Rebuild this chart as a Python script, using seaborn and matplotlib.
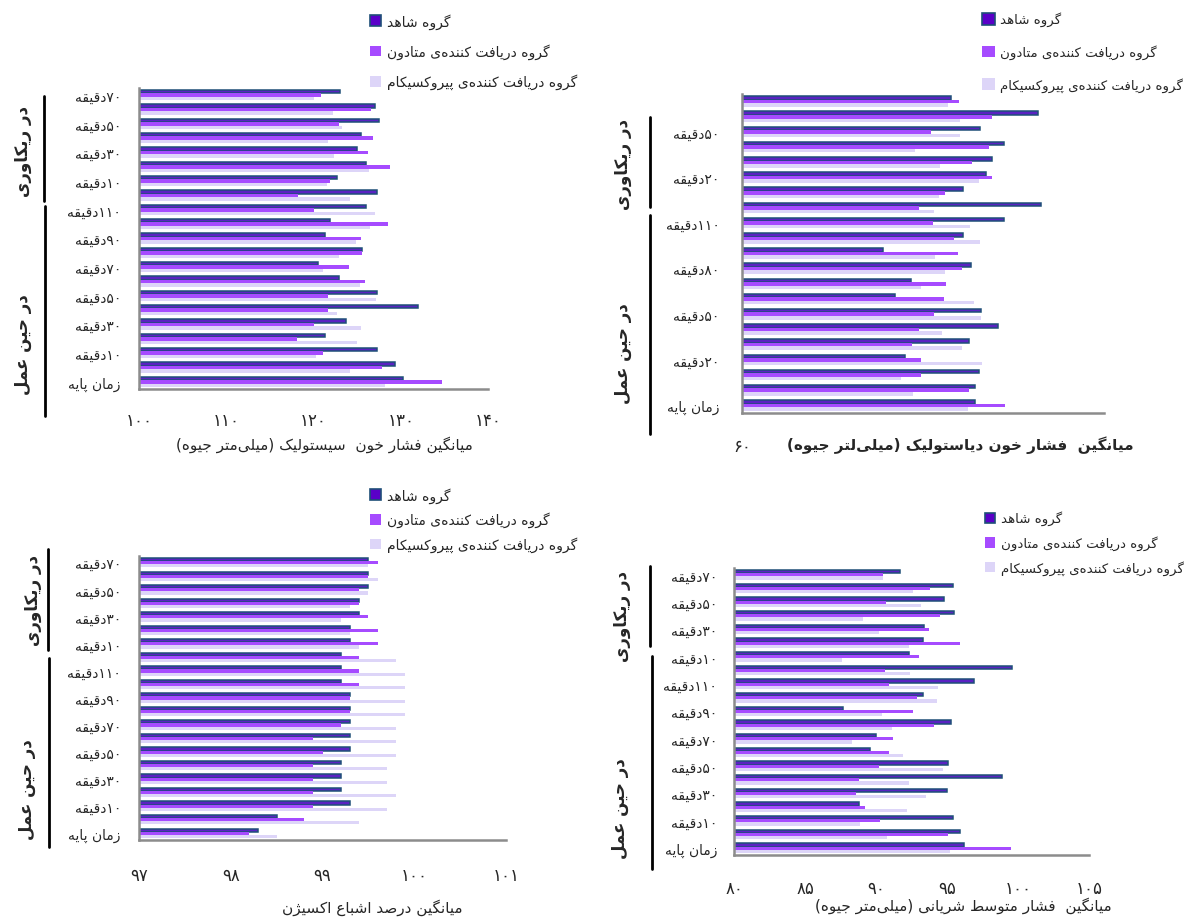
import re
import numpy as np
import pandas as pd
import matplotlib
matplotlib.use("Agg")
import matplotlib.pyplot as plt
import seaborn as sns
from matplotlib.lines import Line2D
from matplotlib.patches import Patch

W, H = 1190, 920

# arabic presentation forms: isolated, final, initial, medial
FORMS = {
    "ا": ("\uFE8D", "\uFE8E", None, None),
    "آ": ("\uFE81", "\uFE82", None, None),
    "ب": ("\uFE8F", "\uFE90", "\uFE91", "\uFE92"),
    "پ": ("\uFB56", "\uFB57", "\uFB58", "\uFB59"),
    "ت": ("\uFE95", "\uFE96", "\uFE97", "\uFE98"),
    "ج": ("\uFE9D", "\uFE9E", "\uFE9F", "\uFEA0"),
    "ح": ("\uFEA1", "\uFEA2", "\uFEA3", "\uFEA4"),
    "خ": ("\uFEA5", "\uFEA6", "\uFEA7", "\uFEA8"),
    "د": ("\uFEA9", "\uFEAA", None, None),
    "ر": ("\uFEAD", "\uFEAE", None, None),
    "ز": ("\uFEAF", "\uFEB0", None, None),
    "ژ": ("\uFB8A", "\uFB8B", None, None),
    "س": ("\uFEB1", "\uFEB2", "\uFEB3", "\uFEB4"),
    "ش": ("\uFEB5", "\uFEB6", "\uFEB7", "\uFEB8"),
    "ص": ("\uFEB9", "\uFEBA", "\uFEBB", "\uFEBC"),
    "ط": ("\uFEC1", "\uFEC2", "\uFEC3", "\uFEC4"),
    "ع": ("\uFEC9", "\uFECA", "\uFECB", "\uFECC"),
    "ف": ("\uFED1", "\uFED2", "\uFED3", "\uFED4"),
    "ق": ("\uFED5", "\uFED6", "\uFED7", "\uFED8"),
    "ک": ("\uFB8E", "\uFB8F", "\uFB90", "\uFB91"),
    "ك": ("\uFB8E", "\uFB8F", "\uFB90", "\uFB91"),
    "گ": ("\uFB92", "\uFB93", "\uFB94", "\uFB95"),
    "ل": ("\uFEDD", "\uFEDE", "\uFEDF", "\uFEE0"),
    "م": ("\uFEE1", "\uFEE2", "\uFEE3", "\uFEE4"),
    "ن": ("\uFEE5", "\uFEE6", "\uFEE7", "\uFEE8"),
    "و": ("\uFEED", "\uFEEE", None, None),
    "ه": ("\uFEE9", "\uFEEA", "\uFEEB", "\uFEEC"),
    "ی": ("\uFBFC", "\uFBFD", "\uFBFE", "\uFBFF"),
    "ي": ("\uFBFC", "\uFBFD", "\uFBFE", "\uFBFF"),
}
DIGITS = "0-9\u06F0-\u06F9"


def fa(text):
    # shape persian letters and put them in visual (left to right) order
    out = []
    for i, c in enumerate(text):
        if c not in FORMS:
            out.append("" if c == "\u200c" else c)
            continue
        prev = text[i - 1] if i > 0 else ""
        nxt = text[i + 1] if i + 1 < len(text) else ""
        join_prev = prev in FORMS and FORMS[prev][2] is not None
        join_next = FORMS[c][2] is not None and nxt in FORMS
        iso, fin, ini, med = FORMS[c]
        if join_prev and join_next:
            out.append(med)
        elif join_prev:
            out.append(fin)
        elif join_next:
            out.append(ini)
        else:
            out.append(iso)
    runs = re.findall(f"[{DIGITS}]+|[^{DIGITS}]+", "".join(out))
    mirror = str.maketrans("()", ")(")
    vis = []
    for r in runs[::-1]:
        if re.fullmatch(f"[{DIGITS}]+", r):
            vis.append(r)
        else:
            vis.append(r[::-1].translate(mirror))
    return "".join(vis)


def fa_num(n):
    return str(n).translate(str.maketrans("0123456789", "۰۱۲۳۴۵۶۷۸۹"))


# categories, bottom (baseline) to top (recovery 70 min)
intraop_times = ["زمان پایه"] + [fa_num(m) + "دقیقه" for m in [5, 10, 20, 30, 40, 50, 60, 70, 80, 90, 100, 110]]
recovery_times = [fa_num(m) + "دقیقه" for m in [0, 10, 20, 30, 40, 50, 60, 70]]
time_labels = intraop_times + recovery_times
time_keys = ["op " + t for t in intraop_times] + ["rec " + t for t in recovery_times]

groups = ["گروه شاهد", "گروه دریافت کننده\u200cی متادون", "گروه دریافت کننده\u200cی پیروکسیکام"]

# systolic blood pressure
sbp_control = [130.3, 129.3, 127.3, 121.3, 123.7, 132.0, 127.3, 122.9, 120.5, 125.6, 121.3,
               121.9, 126.0, 127.3, 122.7, 126.0, 125.0, 125.5, 127.5, 127.0, 123.0]
sbp_methadone = [134.7, 127.9, 121.1, 118.1, 120.1, 121.7, 121.7, 125.9, 124.1, 125.6, 125.4,
                 128.5, 120.1, 118.2, 121.9, 128.8, 126.3, 126.8, 122.9, 126.6, 120.9]
sbp_piroxicam = [128.2, 124.2, 120.3, 125.0, 125.4, 122.7, 127.2, 125.3, 121.1, 122.9, 124.9,
                 126.5, 127.1, 124.2, 121.6, 126.4, 122.3, 121.7, 123.3, 122.2, 120.1]

# diastolic blood pressure
dbp_control = [79.3, 79.3, 79.6, 73.5, 78.8, 81.2, 79.8, 72.7, 74.0, 79.0, 71.7,
               78.3, 81.7, 84.8, 78.3, 80.2, 80.7, 81.7, 79.7, 84.5, 77.3]
dbp_methadone = [81.8, 78.8, 74.8, 74.8, 74.1, 74.7, 75.9, 76.7, 76.9, 78.2, 77.9,
                 77.6, 75.8, 74.7, 76.8, 80.7, 79.1, 80.5, 75.7, 80.7, 78.0]
dbp_piroxicam = [78.7, 74.2, 73.2, 79.9, 78.2, 76.6, 79.8, 79.2, 74.8, 76.8, 76.0,
                 79.7, 78.9, 75.9, 76.3, 79.6, 76.4, 74.3, 78.1, 78.1, 77.1]

# oxygen saturation
spo2_control = [98.3, 98.5, 99.3, 99.2, 99.2, 99.2, 99.3, 99.3, 99.3, 99.3, 99.3,
                99.2, 99.2, 99.2, 99.3, 99.3, 99.4, 99.4, 99.5, 99.5, 99.5]
spo2_methadone = [98.2, 98.8, 98.9, 98.9, 98.9, 98.9, 99.0, 98.9, 99.2, 99.3, 99.3,
                  99.4, 99.4, 99.4, 99.6, 99.6, 99.5, 99.4, 99.4, 99.5, 99.6]
spo2_piroxicam = [98.5, 99.4, 99.7, 99.8, 99.7, 99.7, 99.8, 99.8, 99.8, 99.9, 99.9,
                  99.9, 99.9, 99.8, 99.4, 99.3, 99.2, 99.3, 99.5, 99.6, 99.5]

# mean arterial pressure
map_control = [96.2, 95.9, 95.4, 88.8, 95.0, 98.9, 95.1, 89.6, 90.0, 95.3, 87.7,
               93.3, 96.9, 99.6, 92.3, 93.3, 93.4, 95.5, 94.8, 95.4, 91.7]
map_methadone = [99.5, 95.1, 90.3, 89.2, 88.6, 88.8, 90.2, 90.9, 91.2, 94.1, 92.6,
                 92.9, 90.9, 90.6, 93.0, 95.9, 93.7, 94.5, 90.7, 93.8, 90.5]
map_piroxicam = [95.2, 90.8, 88.9, 92.2, 93.5, 92.3, 94.7, 91.9, 88.3, 91.1, 90.4,
                 94.3, 94.4, 92.4, 87.6, 92.3, 90.2, 89.1, 93.2, 92.6, 90.5]

colors = ["#5a22c2", "#a64bff", "#ddd5f8"]
dark_edge = "#1f4f78"
axis_gray = "#8c8c8c"

sns.set_style("white")
plt.rcParams["font.family"] = ["DejaVu Sans"]

fig = plt.figure(figsize=(W / 100, H / 100), dpi=100)


def px_axes(left, top, right, bottom):
    return fig.add_axes([left / W, 1 - bottom / H, (right - left) / W, (bottom - top) / H])


def draw_panel(ax, series, xlim, xticks, label_step, xpad, ypad, xlabels=None):
    df = pd.DataFrame({"time": time_keys})
    for g, vals in zip(groups, series):
        df[g] = vals
    long = df.melt(id_vars="time", var_name="group", value_name="value")
    sns.barplot(data=long, x="value", y="time", hue="group", order=time_keys[::-1],
                hue_order=groups, palette=colors, orient="h", width=0.7, saturation=1,
                errorbar=None, legend=False, ax=ax)
    for i, cont in enumerate(ax.containers):
        for bar in cont:
            if i == 0:
                bar.set_edgecolor(dark_edge)
                bar.set_linewidth(1.1)
            else:
                bar.set_linewidth(0)
    ax.set_xlim(*xlim)
    ax.set_ylim(len(time_keys) - 0.5, -0.5)
    n = len(time_keys)
    shown = list(range(0, n, label_step))
    ax.set_yticks([n - 1 - i for i in shown], labels=[fa(time_labels[i]) for i in shown])
    ax.set_yticks(np.arange(-0.5, n, 1), minor=True)
    if xlabels is None:
        xlabels = [fa_num(t) for t in xticks]
    ax.set_xticks(xticks, labels=xlabels)
    ax.tick_params(axis="y", which="major", length=0, pad=ypad, labelsize=10)
    ax.tick_params(axis="y", which="minor", length=5, width=1.5, color=axis_gray, direction="out")
    ax.tick_params(axis="x", length=5, width=1.5, color=axis_gray, direction="out",
                   pad=xpad, labelsize=12)
    ax.set_xlabel("")
    ax.set_ylabel("")
    sns.despine(ax=ax)
    for side in ["left", "bottom"]:
        ax.spines[side].set_color(axis_gray)
        ax.spines[side].set_linewidth(1.8)
    ax.set_facecolor("white")


def add_legend(ax, x, y, spacing, size, fontsize=10):
    handles = [Patch(facecolor="#5a00c8", edgecolor=dark_edge, linewidth=1.2),
               Patch(facecolor=colors[1], edgecolor="none"),
               Patch(facecolor=colors[2], edgecolor="none")]
    ax.legend(handles, [fa(g) for g in groups], loc="upper left",
              bbox_to_anchor=(x / W, 1 - y / H), bbox_transform=fig.transFigure,
              frameon=False, borderpad=0, handlelength=size, handleheight=size,
              handletextpad=0.4, labelspacing=spacing, fontsize=fontsize)


def add_bracket(x, y0, y1, tx, ty, text):
    fig.add_artist(Line2D([x / W, x / W], [1 - y0 / H, 1 - y1 / H], transform=fig.transFigure,
                          color="black", linewidth=2))
    fig.text(tx / W, 1 - ty / H, fa(text), rotation=90, ha="center", va="center",
             fontsize=12, fontweight="bold")


def add_xlabel(x, y, text, bold=False):
    kw = dict(ha="center", va="center", fontsize=11)
    if bold:
        kw.update(fontweight="bold")
    fig.text(x / W, 1 - y / H, fa(text), **kw)


# top left: systolic
ax1 = px_axes(139, 89, 488, 390)
draw_panel(ax1, [sbp_control, sbp_methadone, sbp_piroxicam], (100, 140), [100, 110, 120, 130, 140], 2, 11, 13)
add_legend(ax1, 363, 7, 1.05, 0.8)
add_bracket(44, 97, 202, 23, 152, "در ریکاوری")
add_bracket(45, 207, 417, 23, 345, "در حین عمل")
add_xlabel(324, 445, "میانگین فشار خون  سیستولیک (میلی\u200cمتر جیوه)")

# top right: diastolic (only the first tick value is readable; the label covers the rest)
ax2 = px_axes(742, 95, 1104, 414)
draw_panel(ax2, [dbp_control, dbp_methadone, dbp_piroxicam], (60, 90), [60, 70, 80, 90], 3, 12, 16,
           xlabels=[fa_num(60), "", "", ""])
add_legend(ax2, 975, 6, 1.35, 1.0, fontsize=9.6)
add_bracket(650, 118, 208, 623, 165, "در ریکاوری")
add_bracket(650, 216, 435, 623, 354, "در حین عمل")
add_xlabel(960, 445, "میانگین  فشار خون دیاستولیک (میلی\u200cلتر جیوه)", bold=True)

# bottom left: oxygen saturation
ax3 = px_axes(139, 557, 506, 841)
draw_panel(ax3, [spo2_control, spo2_methadone, spo2_piroxicam], (97, 101), [97, 98, 99, 100, 101], 2, 14, 13)
add_legend(ax3, 363, 481, 0.65, 0.8)
add_bracket(48, 550, 651, 33, 601, "در ریکاوری")
add_bracket(49, 659, 848, 27, 790, "در حین عمل")
add_xlabel(372, 908, "میانگین درصد اشباع اکسیژن")

# bottom right: mean arterial pressure
ax4 = px_axes(734, 569, 1089, 856)
draw_panel(ax4, [map_control, map_methadone, map_piroxicam], (80, 105), [80, 85, 90, 95, 100, 105], 2, 12, 12)
add_legend(ax4, 978, 505, 0.75, 0.8, fontsize=9.6)
add_bracket(650, 567, 647, 622, 616, "در ریکاوری")
add_bracket(652, 657, 870, 620, 809, "در حین عمل")
add_xlabel(963, 906, "میانگین  فشار متوسط شریانی (میلی\u200cمتر جیوه)")

fig.savefig("out.png", dpi=100, facecolor="white")
